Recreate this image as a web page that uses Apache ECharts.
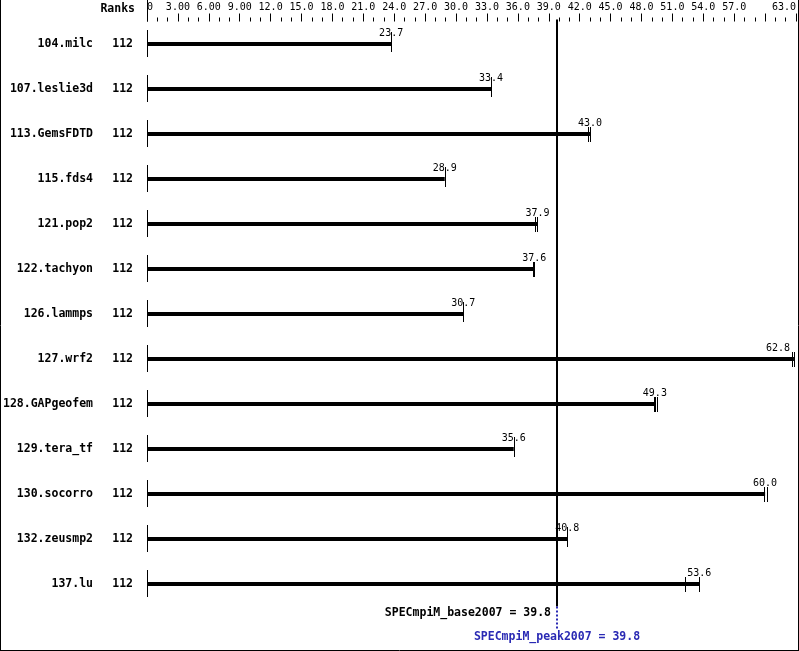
<!DOCTYPE html>
<html>
<head>
<meta charset="utf-8">
<script src="https://cdn.jsdelivr.net/npm/echarts@6/dist/echarts.min.js"></script>
<style>
html,body{margin:0;padding:0;background:#fff;}
#c{width:799px;height:651px;}
</style>
</head>
<body>
<div id="c"></div>
<script>
const benchmarks = ['104.milc','107.leslie3d','113.GemsFDTD','115.fds4','121.pop2','122.tachyon','126.lammps','127.wrf2','128.GAPgeofem','129.tera_tf','130.socorro','132.zeusmp2','137.lu'];
const ranks = ['112','112','112','112','112','112','112','112','112','112','112','112','112'];
const medians = [23.7,33.4,43.0,28.9,37.9,37.6,30.7,62.8,49.3,35.6,60.0,40.8,53.6];
const runTicks = [[23.7],[33.4],[42.8,43.0],[28.9],[37.7,37.9],[37.5,37.6],[30.7],[62.6,62.8],[49.2,49.35,49.5],[35.6],[59.85,60.15],[40.8],[52.2,53.6]];
const baseScore = 39.8;
const peakScore = 39.8;
const baseLabel = 'SPECmpiM_base2007 = 39.8';
const peakLabel = 'SPECmpiM_peak2007 = 39.8';
const xTickLabels = ['0','3.00','6.00','9.00','12.0','15.0','18.0','21.0','24.0','27.0','30.0','33.0','36.0','39.0','42.0','45.0','48.0','51.0','54.0','57.0','','63.0'];

const MONO = '"DejaVu Sans Mono", "Liberation Mono", monospace';
const BLUE = '#2a2ab4';

const chart = echarts.init(document.getElementById('c'), null, {renderer: 'canvas'});

function px(x){ return Math.round(x) + 0.5; }

function renderRow(params, api) {
  const i = api.value(0);
  const v = api.value(1);
  const c0 = api.coord([0, i]);
  const c1 = api.coord([v, i]);
  const y = Math.round(c0[1]);
  const cs = params.coordSys;
  const children = [];
  children.push({type:'line', shape:{x1:px(c0[0]), y1:y-14, x2:px(c0[0]), y2:y+13}, style:{stroke:'#000', lineWidth:1}});
  children.push({type:'rect', shape:{x:c0[0], y:y-2, width:c1[0]-c0[0], height:4}, style:{fill:'#000'}});
  const ticks = runTicks[i];
  ticks.forEach(t => {
    const tx = px(api.coord([t, i])[0]);
    const top = ticks.length === 1 ? y - 12 : y - 7;
    children.push({type:'line', shape:{x1:tx, y1:top, x2:tx, y2:y+8}, style:{stroke:'#000', lineWidth:1}});
  });
  const label = v.toFixed(1);
  const right = cs.x + cs.width - 6;
  let tx = c1[0], align = 'center';
  if (c1[0] + 12 > right) { tx = right; align = 'right'; }
  children.push({type:'text', x: tx, y: y - 11, style:{text: label, font: '10px ' + MONO, fill:'#000', align: align, verticalAlign:'middle'}});
  return {type:'group', children};
}

function renderSummary(params, api) {
  const cs = params.coordSys;
  const x = Math.round(api.coord([api.value(0), 0])[0]);
  const x0 = px(api.coord([0, 0])[0]);
  const bottom = cs.y + cs.height;
  return {type:'group', children:[
    {type:'line', shape:{x1:x0, y1:0, x2:x0, y2:cs.y}, style:{stroke:'#000', lineWidth:1}},
    {type:'line', shape:{x1:x, y1:cs.y - 2, x2:x, y2:bottom}, style:{stroke:'#000', lineWidth:2}},
    {type:'line', shape:{x1:x, y1:bottom, x2:x, y2:bottom + 22}, style:{stroke:BLUE, lineWidth:2, lineDash:[2,2]}},
    {type:'text', x: x - 6, y: bottom + 7, style:{text: baseLabel, font:'bold 11.5px ' + MONO, fill:'#000', align:'right', verticalAlign:'middle'}},
    {type:'text', x: x, y: bottom + 31, style:{text: peakLabel, font:'bold 11.5px ' + MONO, fill:BLUE, align:'center', verticalAlign:'middle'}}
  ]};
}

const option = {
  animation: false,
  backgroundColor: '#fff',
  grid: {left: 147, right: 3, top: 21.5, bottom: 44.5, containLabel: false},
  xAxis: {
    type: 'value', position: 'top', min: 0, max: 63, interval: 3,
    axisLine: {show: false},
    splitLine: {show: false},
    axisTick: {show: true, length: 8, lineStyle: {color: '#000', width: 1}},
    minorTick: {show: true, splitNumber: 3, length: 4, lineStyle: {color: '#000', width: 1}},
    axisLabel: {
      margin: 9, fontSize: 10, fontFamily: MONO, color: '#000',
      alignMinLabel: 'left', alignMaxLabel: 'right',
      formatter: v => xTickLabels[Math.round(v / 3)] || ''
    }
  },
  yAxis: [
    {type: 'category', data: benchmarks, inverse: true,
     axisLine: {show: false}, axisTick: {show: false}, splitLine: {show: false},
     axisLabel: {margin: 54, fontSize: 11.5, fontWeight: 'bold', fontFamily: MONO, color: '#000'}},
    {type: 'category', data: ranks, inverse: true, position: 'left',
     axisLine: {show: false}, axisTick: {show: false}, splitLine: {show: false},
     axisLabel: {margin: 14, fontSize: 11.5, fontWeight: 'bold', fontFamily: MONO, color: '#000'}}
  ],
  graphic: [
    {type: 'text', right: 664, top: 3, style: {text: 'Ranks', font: 'bold 11.5px ' + MONO, fill: '#000'}},
    {type: 'line', shape: {x1: 0.5, y1: 0, x2: 0.5, y2: 651}, style: {stroke: '#000', lineWidth: 1}},
    {type: 'line', shape: {x1: 798.5, y1: 0, x2: 798.5, y2: 651}, style: {stroke: '#000', lineWidth: 1}},
    {type: 'line', shape: {x1: 0, y1: 650.5, x2: 799, y2: 650.5}, style: {stroke: '#000', lineWidth: 1}}
  ],
  series: [
    {type: 'custom', name: 'runs', yAxisIndex: 0, clip: false,
     encode: {x: 1, y: 0},
     data: medians.map((v, i) => [i, v]),
     renderItem: renderRow},
    {type: 'custom', name: 'summary', yAxisIndex: 0, clip: false,
     encode: {x: 0},
     data: [[baseScore, peakScore]],
     renderItem: renderSummary}
  ]
};
chart.setOption(option);
</script>
</body>
</html>
